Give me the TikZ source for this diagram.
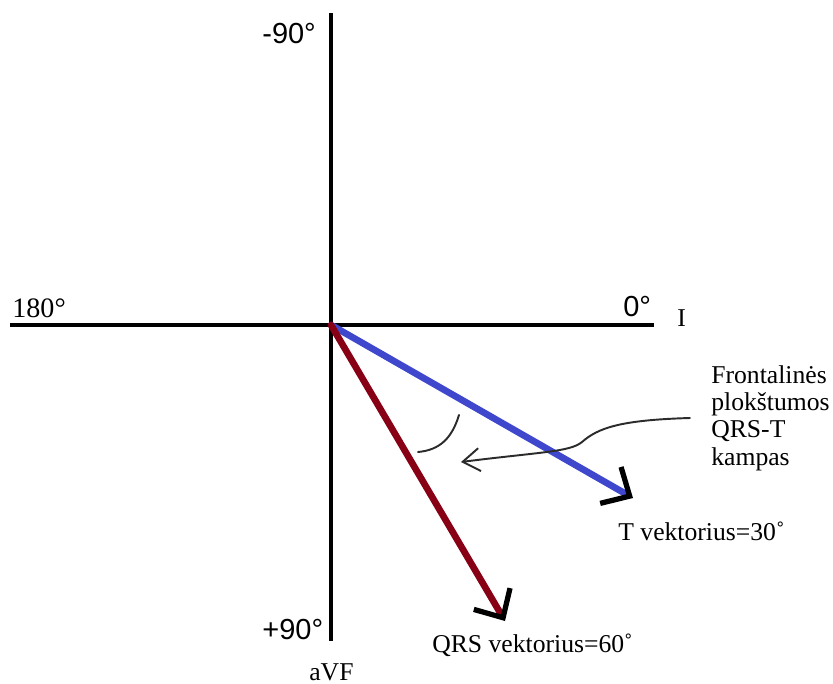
\documentclass[tikz,border=0pt]{standalone}
\usepackage{fontspec}
\setmainfont{Liberation Serif}
\newfontfamily\axisfont{Liberation Sans}
\usetikzlibrary{arrows.meta}
\definecolor{tvc}{HTML}{3F48CC}
\definecolor{qrsc}{HTML}{880015}
\definecolor{penc}{HTML}{2B2B2B}
\tikzset{
  axis/.style={line width=2.8pt,draw=black},
  vec/.style={line width=3.8pt,line cap=round,-{Straight Barb[length=4.4mm,width=8.4mm,line width=3pt,color=black]}},
  tvec/.style={vec,draw=tvc},
  qvec/.style={vec,draw=qrsc},
  deg/.style={font=\axisfont\fontsize{16.5}{18}\selectfont,inner sep=0pt,anchor=base west},
  lbl/.style={font=\fontsize{14.6}{15.6}\selectfont,inner sep=0pt,anchor=base west},
  pen/.style={draw=penc,line width=1.1pt,line cap=round},
}
\begin{document}
\begin{tikzpicture}[x=0.02cm,y=-0.02cm]
  \useasboundingbox (0,0) rectangle (833,684);
  % axes
  \coordinate (O) at (331,325);
  \coordinate (top) at (331,13);
  \coordinate (bot) at (331,641);
  \coordinate (lft) at (10,325);
  \coordinate (rgt) at (654,325);
  \draw[axis] (top) -- (bot);
  \draw[axis] (lft) -- (rgt);
  \node[deg] (n90) at (262,43) {-90°};
  \node[deg] (p90) at (262,639) {+90°};
  \node[deg] (z0) at (623,316) {0°};
  \node[lbl,font=\fontsize{16}{18}\selectfont] (d180) at (12,317) {180°};
  \node[lbl] (lI) at (677,326) {I};
  \node[lbl] (avf) at (309,680) {aVF};
  % vectors
  \coordinate (tend) at (633,498);
  \coordinate (qend) at (505,621);
  \draw[tvec] (O) -- (tend);
  \draw[qvec] (O) -- (qend);
  \node[lbl] (tlab) at (618,540) {T vektorius=30˚};
  \node[lbl] (qlab) at (432,652) {QRS vektorius=60˚};
  % angle note
  \node[lbl,anchor=north west,align=left] (note) at (711,365) {Frontalinės\\plokštumos\\QRS-T\\kampas};
  \coordinate (c0) at (690,418);
  \coordinate (c1) at (461,462);
  \draw[pen] (459,415) .. controls (452,438) and (440,450) .. (418,452);
  \draw[pen,-{Straight Barb[length=3.4mm,width=4.6mm]}] (c0) .. controls (620,420) and (598,428) .. (582,442)
    .. controls (570,452) and (540,452) .. (c1);
\end{tikzpicture}
\end{document}
